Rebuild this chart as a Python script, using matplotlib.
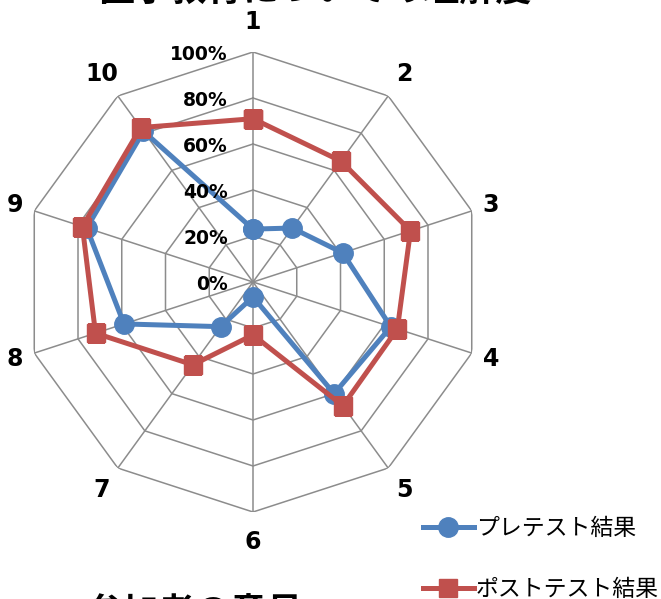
import numpy as np
import matplotlib
matplotlib.use("Agg")
import matplotlib.pyplot as plt

plt.rcParams['font.family'] = ['Noto Sans CJK JP', 'DejaVu Sans']

# data
items = ["1", "2", "3", "4", "5", "6", "7", "8", "9", "10"]
pre_test = [0.23, 0.29, 0.41, 0.63, 0.60, 0.065, 0.24, 0.59, 0.76, 0.81]
post_test = [0.71, 0.65, 0.72, 0.66, 0.665, 0.23, 0.445, 0.72, 0.78, 0.83]
ring_values = [0.0, 0.2, 0.4, 0.6, 0.8, 1.0]
ring_labels = ["0%", "20%", "40%", "60%", "80%", "100%"]
series_names = ["プレテスト結果", "ポストテスト結果"]

W, H = 661, 599
fig = plt.figure(figsize=(W / 100, H / 100), dpi=100)

cx, cy, R = 253, 282, 230
ax = fig.add_axes([(cx - R) / W, 1 - (cy + R) / H, 2 * R / W, 2 * R / H], projection='polar')
ax.set_theta_zero_location('N')
ax.set_theta_direction(-1)
ax.set_ylim(0, 1)
ax.grid(False)
ax.spines['polar'].set_visible(False)
ax.set_xticks([])
ax.set_yticks([])
ax.patch.set_alpha(0)

n = len(items)
angles = np.arange(n) * 2 * np.pi / n
closed = np.append(angles, angles[0])

grid_color = '#8c8c8c'
for v in ring_values[1:]:
    ax.plot(closed, [v] * (n + 1), color=grid_color, lw=1.1, zorder=1)
for a in angles:
    ax.plot([a, a], [0, 1], color=grid_color, lw=1.1, zorder=1)

ax.plot(closed, pre_test + pre_test[:1], color='#4f81bd', lw=3.6, marker='o',
        ms=14, label=series_names[0], zorder=3)
ax.plot(closed, post_test + post_test[:1], color='#c0504d', lw=3.6, marker='s',
        ms=13, label=series_names[1], zorder=4)

for a, lab in zip(angles, items):
    r = 1.07 + 0.06 * abs(np.cos(a))
    ax.text(a, r, lab, ha='center', va='center', fontsize=17, fontweight='bold',
            family=['DejaVu Sans'], clip_on=False)

for v, lab in zip(ring_values, ring_labels):
    ax.annotate(lab, xy=(0, v), xytext=(-18, -2), textcoords='offset points',
                ha='right', va='center', fontsize=13.5, fontweight='bold',
                family=['DejaVu Sans'], annotation_clip=False)

# title and caption are cut by the picture's edges, as in the source
fig.text(315 / W, 1 - 2 / H, "医学教育についての理解度", ha='center', va='baseline',
         fontsize=26, fontweight='bold')
fig.text(195 / W, 1 - 596 / H, "参加者の意見", ha='center', va='top',
         fontsize=26, fontweight='bold')

fig.legend(loc='upper left', bbox_to_anchor=(414 / W, 1 - 508 / H), frameon=False,
           fontsize=16.5, handlelength=2.2, handletextpad=0.1, labelspacing=1.65,
           borderaxespad=0)

fig.savefig("out.png", dpi=100)
